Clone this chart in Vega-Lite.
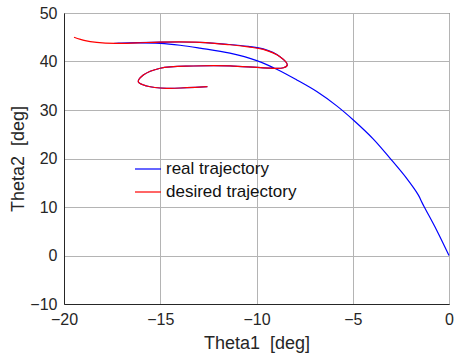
{
  "$schema": "https://vega.github.io/schema/vega-lite/v6.json",
  "width": 385,
  "height": 291,
  "autosize": "none",
  "padding": {"left": 64, "top": 13, "right": 6, "bottom": 57},
  "background": "white",
  "config": {
    "font": "Liberation Sans",
    "view": {"stroke": "#262626", "strokeWidth": 1},
    "axis": {
      "labelFont": "Liberation Sans",
      "titleFont": "Liberation Sans",
      "labelFontSize": 16,
      "titleFontSize": 18,
      "titleFontWeight": "normal",
      "labelColor": "#262626",
      "titleColor": "#262626",
      "domainColor": "#262626",
      "gridColor": "#b4b4b4",
      "gridOpacity": 1,
      "ticks": false,
      "labelFlush": false
    },
    "legend": {"labelFont": "Liberation Sans", "labelFontSize": 17, "labelColor": "#111111"}
  },
  "datasets": {
    "traj": [
      {"series": "real trajectory", "i": 0, "t1": 0, "t2": 0},
      {"series": "real trajectory", "i": 1, "t1": -0.64, "t2": 5.22},
      {"series": "real trajectory", "i": 2, "t1": -1.2, "t2": 9.4},
      {"series": "real trajectory", "i": 3, "t1": -1.4, "t2": 10.9},
      {"series": "real trajectory", "i": 4, "t1": -1.59, "t2": 12.45},
      {"series": "real trajectory", "i": 5, "t1": -2.2, "t2": 15.9},
      {"series": "real trajectory", "i": 6, "t1": -3.06, "t2": 20.03},
      {"series": "real trajectory", "i": 7, "t1": -3.93, "t2": 24.0},
      {"series": "real trajectory", "i": 8, "t1": -4.97, "t2": 27.94},
      {"series": "real trajectory", "i": 9, "t1": -5.85, "t2": 30.9},
      {"series": "real trajectory", "i": 10, "t1": -6.87, "t2": 33.8},
      {"series": "real trajectory", "i": 11, "t1": -7.91, "t2": 36.2},
      {"series": "real trajectory", "i": 12, "t1": -8.95, "t2": 38.4},
      {"series": "real trajectory", "i": 13, "t1": -9.99, "t2": 40.18},
      {"series": "real trajectory", "i": 14, "t1": -11.38, "t2": 41.71},
      {"series": "real trajectory", "i": 15, "t1": -12.94, "t2": 42.75},
      {"series": "real trajectory", "i": 16, "t1": -13.97, "t2": 43.35},
      {"series": "real trajectory", "i": 17, "t1": -15.0, "t2": 43.75},
      {"series": "real trajectory", "i": 18, "t1": -16.2, "t2": 43.85},
      {"series": "real trajectory", "i": 19, "t1": -17.35, "t2": 43.75},
      {"series": "real trajectory", "i": 20, "t1": -16.2, "t2": 43.9},
      {"series": "real trajectory", "i": 21, "t1": -15.0, "t2": 44.0},
      {"series": "real trajectory", "i": 22, "t1": -12.94, "t2": 43.96},
      {"series": "real trajectory", "i": 23, "t1": -11.38, "t2": 43.5},
      {"series": "real trajectory", "i": 24, "t1": -10.43, "t2": 43.1},
      {"series": "real trajectory", "i": 25, "t1": -9.65, "t2": 42.6},
      {"series": "real trajectory", "i": 26, "t1": -8.78, "t2": 41.0},
      {"series": "real trajectory", "i": 27, "t1": -8.4, "t2": 39.3},
      {"series": "real trajectory", "i": 28, "t1": -8.6, "t2": 38.7},
      {"series": "real trajectory", "i": 29, "t1": -9.65, "t2": 38.7},
      {"series": "real trajectory", "i": 30, "t1": -11.38, "t2": 39.1},
      {"series": "real trajectory", "i": 31, "t1": -13.28, "t2": 39.07},
      {"series": "real trajectory", "i": 32, "t1": -15.0, "t2": 38.6},
      {"series": "real trajectory", "i": 33, "t1": -15.88, "t2": 37.2},
      {"series": "real trajectory", "i": 34, "t1": -16.14, "t2": 35.8},
      {"series": "real trajectory", "i": 35, "t1": -15.7, "t2": 34.95},
      {"series": "real trajectory", "i": 36, "t1": -14.66, "t2": 34.47},
      {"series": "real trajectory", "i": 37, "t1": -13.62, "t2": 34.6},
      {"series": "real trajectory", "i": 38, "t1": -12.55, "t2": 34.8},
      {"series": "desired trajectory", "i": 0, "t1": -19.48, "t2": 45.0},
      {"series": "desired trajectory", "i": 1, "t1": -18.9, "t2": 44.3},
      {"series": "desired trajectory", "i": 2, "t1": -18.3, "t2": 43.95},
      {"series": "desired trajectory", "i": 3, "t1": -17.35, "t2": 43.75},
      {"series": "desired trajectory", "i": 4, "t1": -16.2, "t2": 43.85},
      {"series": "desired trajectory", "i": 5, "t1": -15.0, "t2": 44.0},
      {"series": "desired trajectory", "i": 6, "t1": -12.94, "t2": 43.96},
      {"series": "desired trajectory", "i": 7, "t1": -11.38, "t2": 43.45},
      {"series": "desired trajectory", "i": 8, "t1": -10.43, "t2": 43.0},
      {"series": "desired trajectory", "i": 9, "t1": -9.65, "t2": 42.5},
      {"series": "desired trajectory", "i": 10, "t1": -8.78, "t2": 41.0},
      {"series": "desired trajectory", "i": 11, "t1": -8.4, "t2": 39.3},
      {"series": "desired trajectory", "i": 12, "t1": -8.6, "t2": 38.7},
      {"series": "desired trajectory", "i": 13, "t1": -9.65, "t2": 38.7},
      {"series": "desired trajectory", "i": 14, "t1": -11.38, "t2": 39.1},
      {"series": "desired trajectory", "i": 15, "t1": -13.28, "t2": 39.07},
      {"series": "desired trajectory", "i": 16, "t1": -15.0, "t2": 38.6},
      {"series": "desired trajectory", "i": 17, "t1": -15.88, "t2": 37.2},
      {"series": "desired trajectory", "i": 18, "t1": -16.14, "t2": 35.8},
      {"series": "desired trajectory", "i": 19, "t1": -15.7, "t2": 34.95},
      {"series": "desired trajectory", "i": 20, "t1": -14.66, "t2": 34.47},
      {"series": "desired trajectory", "i": 21, "t1": -13.62, "t2": 34.6},
      {"series": "desired trajectory", "i": 22, "t1": -12.55, "t2": 34.8}
    ]
  },
  "data": {"name": "traj"},
  "encoding": {
    "x": {
      "field": "t1", "type": "quantitative",
      "scale": {"domain": [-20, 0], "nice": false, "zero": false},
      "axis": {"values": [-20, -15, -10, -5, 0], "title": "Theta1 \u00a0[deg]", "labelPadding": 7, "titlePadding": 7}
    },
    "y": {
      "field": "t2", "type": "quantitative",
      "scale": {"domain": [-10, 50], "nice": false, "zero": false},
      "axis": {"values": [-10, 0, 10, 20, 30, 40, 50], "title": "Theta2 \u00a0[deg]", "labelPadding": 7, "titlePadding": 2}
    },
    "order": {"field": "i", "type": "quantitative"},
    "color": {
      "field": "series", "type": "nominal",
      "scale": {"domain": ["real trajectory", "desired trajectory"], "range": ["#0000ff", "#ff0000"]},
      "legend": {
        "title": null, "orient": "none", "legendX": 70, "legendY": 142,
        "symbolType": "stroke", "symbolSize": 676, "symbolStrokeWidth": 1.2,
        "rowPadding": 1, "labelOffset": 4
      }
    }
  },
  "layer": [
    {
      "transform": [{"filter": "datum.series == 'real trajectory'"}],
      "mark": {"type": "line", "strokeWidth": 1.2, "interpolate": "catmull-rom"}
    },
    {
      "transform": [{"filter": "datum.series == 'desired trajectory'"}],
      "mark": {"type": "line", "strokeWidth": 1.2, "interpolate": "catmull-rom"}
    }
  ]
}
